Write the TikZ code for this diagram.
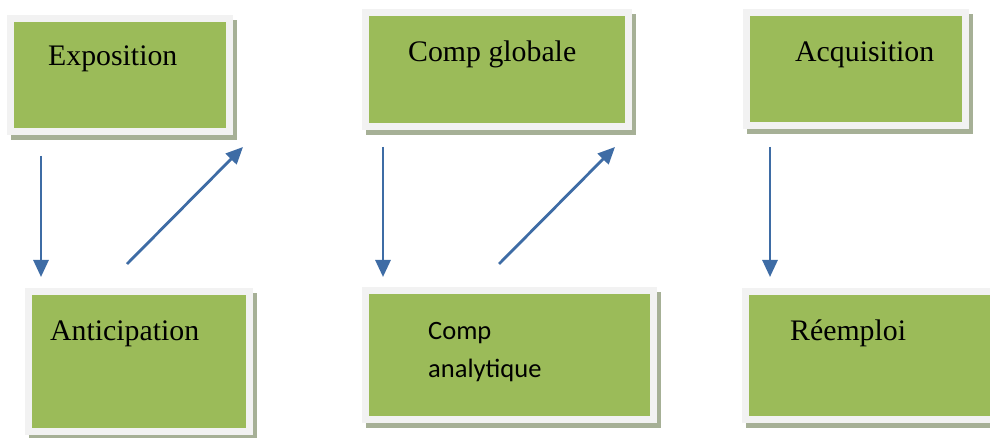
\documentclass[tikz,border=0pt]{standalone}
\usepackage{fontspec}
\setmainfont{Liberation Serif}
\newfontfamily\calibrifont{Carlito}
\usetikzlibrary{arrows.meta,shadows}

\definecolor{boxgreen}{RGB}{155,187,89}
\definecolor{framegray}{RGB}{242,242,242}
\definecolor{shadowgray}{RGB}{166,176,150}
\definecolor{arrowblue}{RGB}{62,108,165}

\tikzset{
  slide/.style={rectangle, fill=framegray, inner sep=0pt,
    drop shadow={shadow xshift=4pt, shadow yshift=-5pt, fill=shadowgray, opacity=1},
    path picture={\fill[boxgreen] ([shift={(7pt,-7pt)}]path picture bounding box.north west)
      rectangle ([shift={(-7pt,7pt)}]path picture bounding box.south east);}},
  word/.style={anchor=base west, inner sep=0pt, font=\fontsize{29.8}{34}\selectfont},
  flow/.style={draw=arrowblue, line width=2.8pt, -{Triangle[length=17pt,width=15pt]}}
}

\begin{document}
\begin{tikzpicture}[x=1pt,y=-1pt]
                \clip (0,0) rectangle (990,438);
                \fill[white] (0,0) rectangle (990,438);
                % top row
                \node[slide, minimum width=226pt, minimum height=120pt] (expo) at (120,75) {};
                \node[slide, minimum width=270pt, minimum height=121pt] (glob) at (497,69.5) {};
                \node[slide, minimum width=226pt, minimum height=120pt] (acqu) at (856,69) {};
                % bottom row
                \node[slide, minimum width=228pt, minimum height=147pt] (anti) at (139,361.5) {};
                \node[slide, minimum width=295pt, minimum height=136pt] (anal) at (509.5,355) {};
                \node[slide, minimum width=258pt, minimum height=135pt] (reem) at (871,355.5) {};
                % texts
                \node[word] (expotext) at (48,66) {Exposition};
                \node[word] (globtext) at (408,62) {Comp globale};
                \node[word] (acqutext) at (795,62) {Acquisition};
                \node[word] (antitext) at (50,340) {Anticipation};
                \node[word] (reemtext) at (790,340) {Réemploi};
                \node[anchor=base west, inner sep=0pt, align=left,
                  font=\calibrifont\fontsize{26.5}{38}\selectfont] (analtext) at (428,377) {Comp\\analytique};
                % arrows
                \coordinate (a1s) at (41,156);
                \coordinate (a1e) at (41,277);
                \coordinate (a2s) at (127,264);
                \coordinate (a2e) at (243,147);
                \coordinate (a3s) at (383,147);
                \coordinate (a3e) at (383,277);
                \coordinate (a4s) at (499,264);
                \coordinate (a4e) at (615,147);
                \coordinate (a5s) at (770,147);
                \coordinate (a5e) at (770,277);
                \draw[flow] (a1s) -- (a1e);
                \draw[flow] (a2s) -- (a2e);
                \draw[flow] (a3s) -- (a3e);
                \draw[flow] (a4s) -- (a4e);
                \draw[flow] (a5s) -- (a5e);
            \end{tikzpicture}
\end{document}
